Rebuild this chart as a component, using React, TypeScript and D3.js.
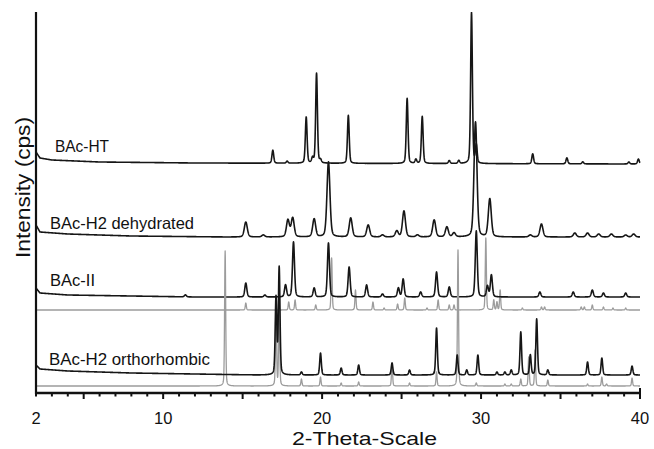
import React from "react";
import * as d3 from "d3";

// ---- Data (2-theta in degrees, heights in arbitrary intensity units) ----
const X_TICK_LABELS = [2, 10, 20, 30, 40];

// [2-theta, peak height]
const HT_PEAKS: [number, number][] = [
  [16.9, 13], [17.8, 2], [19.0, 46], [19.4, 5], [19.65, 90], [19.9, 3],
  [21.65, 48], [25.35, 65], [25.9, 4], [26.3, 47], [28.0, 3], [28.6, 3],
  [29.4, 151], [29.7, 18], [33.25, 10], [35.4, 6], [36.4, 2], [39.3, 2], [39.9, 5],
];
const DEHYD_PEAKS: [number, number][] = [
  [15.2, 15], [16.3, 2], [17.85, 17], [18.15, 19], [19.5, 18], [20.4, 75],
  [21.8, 19], [22.9, 12], [23.8, 2], [24.7, 6], [25.15, 26], [26.0, 2],
  [27.05, 17], [27.85, 10], [28.3, 4], [29.65, 115], [30.55, 38], [33.1, 2],
  [33.8, 13], [35.9, 4], [36.7, 4], [37.4, 3], [38.2, 3], [39.1, 2], [39.6, 3],
];
const BACII_PEAKS: [number, number][] = [
  [11.4, 2], [15.2, 14], [16.4, 2], [17.7, 12], [18.2, 55], [19.5, 9],
  [20.4, 54], [21.7, 30], [22.8, 12], [23.8, 3], [24.8, 9], [25.1, 18],
  [26.2, 5], [27.2, 25], [28.0, 10], [29.7, 66], [30.4, 11], [30.65, 22],
  [33.7, 5], [35.8, 5], [37.0, 7], [37.7, 4], [39.1, 4],
];
const BACII_REF_PEAKS: [number, number][] = [
  [15.2, 7], [17.9, 8], [18.3, 10], [19.6, 5], [20.6, 52], [22.1, 20],
  [23.2, 8], [23.9, 2], [24.75, 6], [25.2, 12], [26.6, 2], [27.3, 10],
  [28.0, 5], [28.3, 5], [30.3, 72], [30.8, 10], [31.0, 8], [31.2, 20],
  [32.6, 2], [33.8, 3], [34.0, 3], [36.3, 3], [36.5, 3], [37.0, 5],
  [37.7, 3], [38.3, 2], [39.1, 2],
];
const ORTHO_PEAKS: [number, number][] = [
  [17.1, 77], [17.3, 107], [18.7, 3], [19.9, 22], [21.2, 7], [22.3, 10],
  [24.4, 12], [25.5, 5], [27.2, 47], [28.5, 20], [29.1, 5], [29.8, 20],
  [31.0, 3], [31.5, 3], [31.9, 5], [32.5, 43], [33.1, 20], [33.5, 56],
  [34.2, 5], [36.7, 13], [37.6, 17], [39.5, 9],
];
const ORTHO_REF_PEAKS: [number, number][] = [
  [13.9, 135], [17.1, 86], [17.3, 86], [18.7, 7], [19.9, 9], [21.2, 3],
  [22.3, 4], [24.4, 23], [25.5, 3], [27.2, 14], [28.55, 136], [29.7, 3],
  [31.5, 2], [31.9, 2], [32.5, 7], [33.0, 29], [33.4, 36], [34.2, 6],
  [36.7, 2], [37.6, 9], [37.9, 2], [39.5, 8],
];

// background knots [2-theta, extra intensity above baseline]
const HT_BG: [number, number][] = [[2, 11], [2.25, 5], [3, 3], [6, 1], [12, 0], [40, -1]];
const DEHYD_BG: [number, number][] = [[2, 12], [2.25, 5], [4, 3], [8, 1], [14, 0], [40, 0]];
const BACII_BG: [number, number][] = [[2, 9], [2.25, 4], [4, 2], [8, 1], [12, 0], [40, 0]];
const ORTHO_BG: [number, number][] = [[2, 10], [2.25, 6], [4, 4], [8, 2], [12, 1], [16, 0], [40, 0]];
const FLAT_BG: [number, number][] = [[2, 0], [40, 0]];

const TRACE_NAMES = ["BAc-HT", "BAc-H2 dehydrated", "BAc-II", "BAc-H2 orthorhombic"];

// ---- Layout ----
const W = 654, H = 449;
const X0 = 36, X1 = 640, YB = 393, YT = 12;

const x = d3.scaleLinear().domain([2, 40]).range([X0, X1]);
const y = d3.scaleLinear().domain([0, YB - YT]).range([YB, YT]);

type Trace = {
  peaks: [number, number][];
  bg: [number, number][];
  offset: number; // baseline in intensity units
  hw: number; // half width at half max (deg)
  color: string;
  width: number;
};

const traces: Trace[] = [
  { peaks: HT_PEAKS, bg: HT_BG, offset: YB - 163, hw: 0.065, color: "#161616", width: 1.6 },
  { peaks: DEHYD_PEAKS, bg: DEHYD_BG, offset: YB - 237, hw: 0.11, color: "#161616", width: 1.6 },
  { peaks: BACII_REF_PEAKS, bg: FLAT_BG, offset: YB - 310, hw: 0.04, color: "#9c9c9c", width: 1.3 },
  { peaks: BACII_PEAKS, bg: BACII_BG, offset: YB - 297, hw: 0.075, color: "#161616", width: 1.6 },
  { peaks: ORTHO_REF_PEAKS, bg: FLAT_BG, offset: YB - 386, hw: 0.04, color: "#9c9c9c", width: 1.3 },
  { peaks: ORTHO_PEAKS, bg: ORTHO_BG, offset: YB - 375, hw: 0.06, color: "#161616", width: 1.6 },
];

function profile(t: Trace): [number, number][] {
  const bg = d3.scaleLinear().domain(t.bg.map((d) => d[0])).range(t.bg.map((d) => d[1])).clamp(true);
  const pts: [number, number][] = [];
  const eta = 0.3;
  for (let i = 0; i <= 3800; i++) {
    const tt = 2 + i * 0.01;
    let v = t.offset + bg(tt);
    for (const [p, h] of t.peaks) {
      const u = (tt - p) / t.hw;
      if (Math.abs(u) > 40) continue;
      const u2 = u * u;
      v += h * (eta / (1 + u2) + (1 - eta) * Math.exp(-Math.LN2 * u2));
    }
    pts.push([tt, v]);
  }
  return pts;
}

const line = d3
  .line<[number, number]>()
  .x((d) => x(d[0]))
  .y((d) => y(d[1]));

const labelPos = [
  { x: 55, y: 152, len: 54 },
  { x: 50, y: 229, len: 144 },
  { x: 50, y: 286, len: 45 },
  { x: 49, y: 365, len: 161 },
];

const FONT = "'Liberation Sans', Arial, Helvetica, sans-serif";

export default function App() {
  const minor = d3.range(2, 41, 1);
  return (
    <svg
      width={W}
      height={H}
      style={{ position: "absolute", left: 0, top: 0, background: "#fff" }}
      fontFamily={FONT}
    >
      <defs>
        <clipPath id="plot">
          <rect x={X0} y={YT} width={X1 - X0 + 2} height={YB - YT} />
        </clipPath>
      </defs>
      <g clipPath="url(#plot)">
        {traces.map((t, i) => (
          <path
            key={i}
            d={line(profile(t)) || ""}
            fill="none"
            stroke={t.color}
            strokeWidth={t.width}
            strokeLinejoin="round"
          />
        ))}
      </g>
      {/* axes */}
      <line x1={X0} y1={YT} x2={X0} y2={YB + 1} stroke="#111" strokeWidth={2.2} />
      <line x1={X0 - 1} y1={YB} x2={X1 + 1} y2={YB} stroke="#111" strokeWidth={2.4} />
      {minor.map((v) => {
        const major = v % 5 === 0;
        return (
          <line
            key={v}
            x1={x(v)}
            x2={x(v)}
            y1={v === 40 ? YB - 5 : YB}
            y2={YB + (major ? 6 : 3.5)}
            stroke="#111"
            strokeWidth={2}
          />
        );
      })}
      {X_TICK_LABELS.map((v) => (
        <text key={v} x={x(v)} y={424} textAnchor="middle" fontSize={16.5} fill="#111">
          {v}
        </text>
      ))}
      <text x={(292 + 437) / 2} y={445} textAnchor="middle" fontSize={19} fill="#111" textLength={145} lengthAdjust="spacingAndGlyphs">
        2-Theta-Scale
      </text>
      <text
        transform={`translate(30,${(117 + 258) / 2}) rotate(-90)`}
        textAnchor="middle"
        fontSize={19.5}
        fill="#111"
        textLength={141}
        lengthAdjust="spacingAndGlyphs"
      >
        Intensity (cps)
      </text>
      {TRACE_NAMES.map((n, i) => (
        <text
          key={n}
          x={labelPos[i].x}
          y={labelPos[i].y}
          fontSize={16.5}
          fill="#111"
          textLength={labelPos[i].len}
          lengthAdjust="spacingAndGlyphs"
        >
          {n}
        </text>
      ))}
    </svg>
  );
}
